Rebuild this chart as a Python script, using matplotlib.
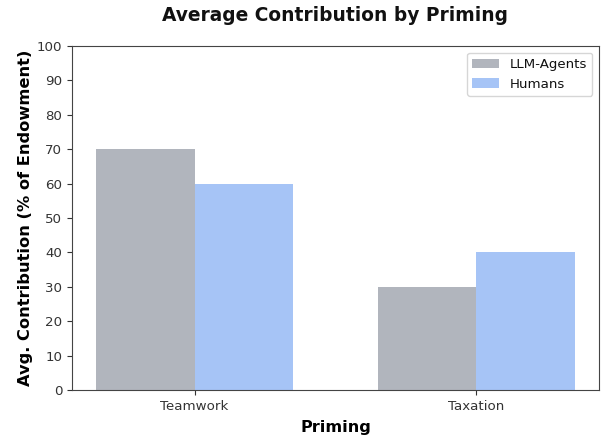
import numpy as np
import matplotlib
matplotlib.use("Agg")
import matplotlib.pyplot as plt

# data
categories = ["Teamwork", "Taxation"]
llm_agents = [70, 30]
humans = [60, 40]

x = np.arange(len(categories))
width = 0.35

plt.rcParams["font.size"] = 9.6
plt.rcParams["text.color"] = "#111111"
plt.rcParams["xtick.color"] = "#333333"
plt.rcParams["ytick.color"] = "#333333"
plt.rcParams["axes.edgecolor"] = "#444444"

fig = plt.figure(figsize=(6.02, 4.36), dpi=100)
ax = fig.add_axes([72 / 602, 1 - 390 / 436, 527 / 602, 344 / 436])

ax.bar(x - width / 2, llm_agents, width, label="LLM-Agents", color="#b1b5bd")
ax.bar(x + width / 2, humans, width, label="Humans", color="#a6c4f6")

ax.set_ylim(0, 100)
ax.set_yticks(range(0, 101, 10))
ax.set_xticks(x)
ax.set_xticklabels(categories)
ax.set_xlabel("Priming", fontsize=11.6, fontweight="bold", labelpad=5)
ax.set_ylabel("Avg. Contribution (% of Endowment)", fontsize=11.7, fontweight="bold", labelpad=3)
ax.set_title("Average Contribution by Priming", fontsize=13.4, fontweight="bold", pad=18)
ax.legend(loc="upper right")

fig.savefig("out.png", dpi=100)
